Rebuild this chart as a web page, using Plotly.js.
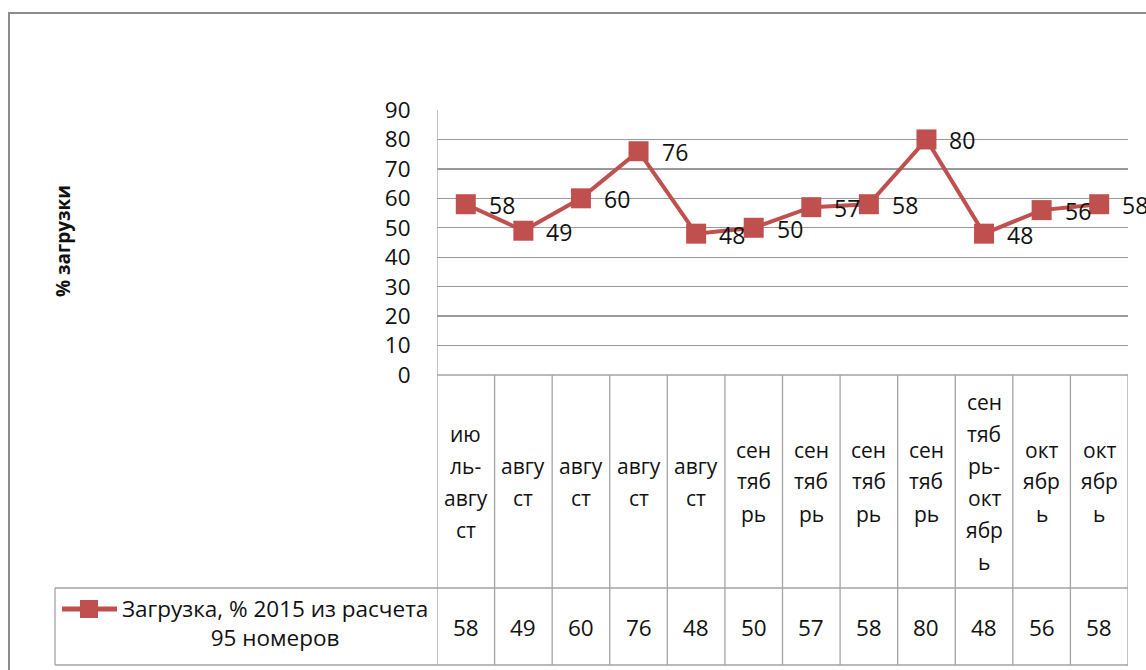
<!DOCTYPE html>
<html>
<head>
<meta charset="utf-8">
<script src="https://cdn.plot.ly/plotly-3.0.1.min.js"></script>
<style>
html,body{margin:0;padding:0;background:#fff;}
#chart{width:1146px;height:670px;}
</style>
</head>
<body>
<div id="chart"></div>
<script>
// ---- data ----
const categories = [
  "ию<br>ль-<br>авгу<br>ст",
  "авгу<br>ст",
  "авгу<br>ст",
  "авгу<br>ст",
  "авгу<br>ст",
  "сен<br>тяб<br>рь",
  "сен<br>тяб<br>рь",
  "сен<br>тяб<br>рь",
  "сен<br>тяб<br>рь",
  "сен<br>тяб<br>рь-<br>окт<br>ябр<br>ь",
  "окт<br>ябр<br>ь",
  "окт<br>ябр<br>ь"
];
const values = [58, 49, 60, 76, 48, 50, 57, 58, 80, 48, 56, 58];
const seriesName = "Загрузка, % 2015 из расчета<br>95 номеров";
const yTickValues = [0, 10, 20, 30, 40, 50, 60, 70, 80, 90];
const yTitleText = "% загрузки";

// ---- layout helpers (pixel -> paper) ----
const W = 1146, H = 670;
const px = x => x / W;
const py = y => 1 - y / H;

const FONT = "Open Sans, Noto Sans, sans-serif";
const TXT = "#111111";
const RED = "#C0504D";
const GRID = "#9a9a9a";
const TABLE = "#a3a3a3";

const plotL = 437, plotR = 1128, plotT = 110, plotB = 375;
const rowSplit = 588, tableB = 665, legendL = 55;

const xIdx = values.map((_, i) => i);

const trace = {
  x: xIdx,
  y: values,
  type: "scatter",
  mode: "lines+markers",
  line: {color: RED, width: 4},
  marker: {symbol: "square", size: 20, color: RED},
  cliponaxis: false,
  showlegend: false,
  hoverinfo: "skip"
};

const shapes = [];
const annotations = [];

// outer chart border
shapes.push({type: "rect", xref: "paper", yref: "paper",
  x0: px(9), x1: px(1160), y0: py(13), y1: py(700),
  line: {color: "#8c8c8c", width: 2}});

// table vertical lines (category boundaries)
for (let i = 0; i <= categories.length; i++) {
  const top = (i === 0) ? plotT : plotB;
  shapes.push({type: "line", xref: "x", yref: "paper",
    x0: i - 0.5, x1: i - 0.5, y0: py(top), y1: py(tableB),
    line: {color: TABLE, width: 1.3}});
}
// table horizontal lines
shapes.push({type: "line", xref: "paper", yref: "paper",
  x0: px(plotL), x1: px(plotR), y0: py(plotB), y1: py(plotB),
  line: {color: TABLE, width: 1.3}});
shapes.push({type: "line", xref: "paper", yref: "paper",
  x0: px(legendL), x1: px(plotR), y0: py(rowSplit), y1: py(rowSplit),
  line: {color: TABLE, width: 1.3}});
shapes.push({type: "line", xref: "paper", yref: "paper",
  x0: px(legendL), x1: px(plotR), y0: py(tableB), y1: py(tableB),
  line: {color: TABLE, width: 1.3}});
shapes.push({type: "line", xref: "paper", yref: "paper",
  x0: px(legendL), x1: px(legendL), y0: py(rowSplit), y1: py(tableB),
  line: {color: TABLE, width: 1.3}});

// legend key inside table
shapes.push({type: "line", xref: "paper", yref: "paper",
  x0: px(62), x1: px(117), y0: py(609), y1: py(609),
  line: {color: RED, width: 5}});
shapes.push({type: "rect", xref: "paper", yref: "paper",
  x0: px(80), x1: px(98), y0: py(600), y1: py(618),
  fillcolor: RED, line: {width: 0}});
annotations.push({xref: "paper", yref: "paper", x: px(275), y: py(623),
  text: seriesName, showarrow: false, align: "center",
  xanchor: "center", yanchor: "middle",
  font: {family: FONT, size: 22.5, color: TXT}});

// category labels in table (one annotation per wrapped line)
const catCenter = (plotB + rowSplit) / 2;
const lineStep = 32;
categories.forEach((c, i) => {
  const lines = c.split("<br>");
  const n = lines.length;
  lines.forEach((ln, j) => {
    const yPix = catCenter + (j - (n - 1) / 2) * lineStep;
    annotations.push({xref: "x", yref: "paper", x: i, y: py(yPix),
      text: ln, showarrow: false, xanchor: "center", yanchor: "middle",
      font: {family: FONT, size: 21, color: TXT}});
  });
});

// value row in table
values.forEach((v, i) => {
  annotations.push({xref: "x", yref: "paper", x: i, y: py(627),
    text: String(v), showarrow: false, xanchor: "center", yanchor: "middle",
    font: {family: FONT, size: 22.5, color: TXT}});
});

// data labels
values.forEach((v, i) => {
  annotations.push({xref: "x", yref: "y", x: i, y: v,
    text: String(v), showarrow: false, xanchor: "left", yanchor: "middle",
    xshift: 21, yshift: -1,
    font: {family: FONT, size: 23, color: TXT}});
});

// y axis title
annotations.push({xref: "paper", yref: "paper", x: px(63), y: py(241),
  text: "<b>" + yTitleText + "</b>", showarrow: false, textangle: -90,
  xanchor: "center", yanchor: "middle",
  font: {family: FONT, size: 19, color: TXT}});

const layout = {
  width: W, height: H,
  margin: {l: 0, r: 0, t: 0, b: 0},
  paper_bgcolor: "#ffffff",
  plot_bgcolor: "#ffffff",
  showlegend: false,
  xaxis: {
    domain: [px(plotL), px(plotR)],
    range: [-0.5, categories.length - 0.5],
    showgrid: false, zeroline: false, showticklabels: false,
    showline: false, ticks: "", fixedrange: true
  },
  yaxis: {
    domain: [py(plotB), py(plotT)],
    range: [0, 90],
    tickvals: yTickValues,
    ticktext: yTickValues.map(String),
    showgrid: true, gridcolor: GRID, gridwidth: 1.3,
    zeroline: false, showline: false,
    ticks: "outside", ticklen: 21, tickcolor: "rgba(0,0,0,0)",
    tickfont: {family: FONT, size: 22.5, color: TXT},
    fixedrange: true
  },
  shapes: shapes,
  annotations: annotations
};

Plotly.newPlot("chart", [trace], layout, {staticPlot: true, displayModeBar: false});
</script>
</body>
</html>
